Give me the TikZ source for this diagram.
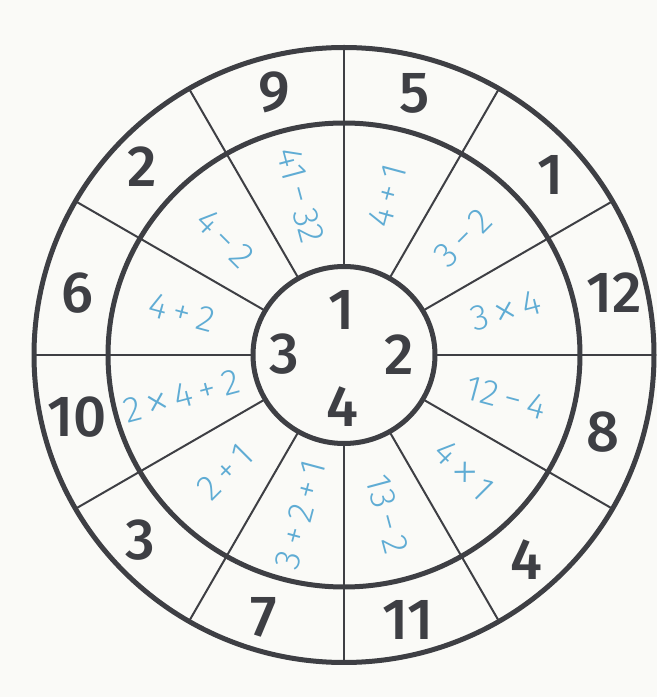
\documentclass[tikz,border=0pt]{standalone}
\usepackage{fontspec}
\setmainfont{Fira Sans Medium}
\newfontfamily\bluefont{Fira Sans Light}
\newfontfamily\thinfont{Fira Sans ExtraLight}
\usetikzlibrary{calc}
\definecolor{ink}{RGB}{62,63,68}
\definecolor{sky}{RGB}{95,172,212}
\definecolor{paper}{RGB}{250,250,247}
\newcommand{\op}[1]{\hspace{0.18em}#1\hspace{0.18em}}
\newcommand{\tms}{\hspace{0.14em}\raisebox{-0.1em}{\scalebox{1.4}{\thinfont ×}}\hspace{0.14em}}
\begin{document}
\begin{tikzpicture}[x=1pt,y=1pt,
  ring/.style={draw=ink,line width=5pt},
  spoke/.style={draw=ink,line width=2pt},
  bignum/.style={text=ink,font=\fontsize{58}{58}\selectfont,inner sep=0pt},
  expr/.style={text=sky,font=\bluefont\fontsize{36}{36}\selectfont,inner sep=0pt}]
\useasboundingbox (0,0) rectangle (657,697);
\fill[paper] (0,0) rectangle (657,697);
\coordinate (c) at (344,342);
% spokes
\foreach \a in {0,30,...,330}
  \draw[spoke] ($(c)+(\a:91 and 88.5)$) -- ($(c)+(\a:310 and 307.5)$);
% rings
\draw[ring] (c) ellipse [x radius=310, y radius=307.5];
\draw[ring] (c) ellipse [x radius=236, y radius=232];
\draw[ring] (c) ellipse [x radius=91, y radius=88.5];
% outer numbers
\node[bignum] (o9)  at (274,605) {9};
\node[bignum] (o5)  at (415,604) {5};
\node[bignum] (o1)  at (551,522) {1};
\node[bignum] (o12) at (614,404) {12};
\node[bignum] (o8)  at (603,265) {8};
\node[bignum] (o4)  at (526,137) {4};
\node[bignum] (o11) at (408,77)  {11};
\node[bignum] (o7)  at (264,80)  {7};
\node[bignum] (o3)  at (140,157) {3};
\node[bignum] (o10) at (77,280)  {10};
\node[bignum] (o6)  at (77,404)  {6};
\node[bignum] (o2)  at (142,530) {2};
% centre numbers
\node[bignum] (i1) at (342,387) {1};
\node[bignum] (i3) at (284,343) {3};
\node[bignum] (i2) at (399,342) {2};
\node[bignum] (i4) at (342,290) {4};
% expressions
\node[expr,rotate=-75] (e105) at ($(c)+(105:168 and 165)$) {41\op{−}32};
\node[expr,rotate=75]  (e75)  at ($(c)+(75:168 and 165)$)  {4\op{+}1};
\node[expr,rotate=-45] (e135) at ($(c)+(135:168 and 165)$) {4\op{−}2};
\node[expr,rotate=45]  (e45)  at ($(c)+(45:168 and 165)$)  {3\op{−}2};
\node[expr,rotate=-15] (e165) at ($(c)+(165:168 and 165)$) {4\op{+}2};
\node[expr,rotate=15]  (e15)  at ($(c)+(15:168 and 165)$)  {3\tms4};
\node[expr,rotate=15]  (e195) at ($(c)+(195:168 and 165)$) {2\tms4\op{+}2};
\node[expr,rotate=-15] (e345) at ($(c)+(345:168 and 165)$) {12\op{−}4};
\node[expr,rotate=45]  (e225) at ($(c)+(225:168 and 165)$) {2\op{+}1};
\node[expr,rotate=-45] (e315) at ($(c)+(315:168 and 165)$) {4\tms1};
\node[expr,rotate=75]  (e255) at ($(c)+(255:168 and 165)$) {3\op{+}2\op{+}1};
\node[expr,rotate=-75] (e285) at ($(c)+(285:168 and 165)$) {13\op{−}2};
\end{tikzpicture}
\end{document}
